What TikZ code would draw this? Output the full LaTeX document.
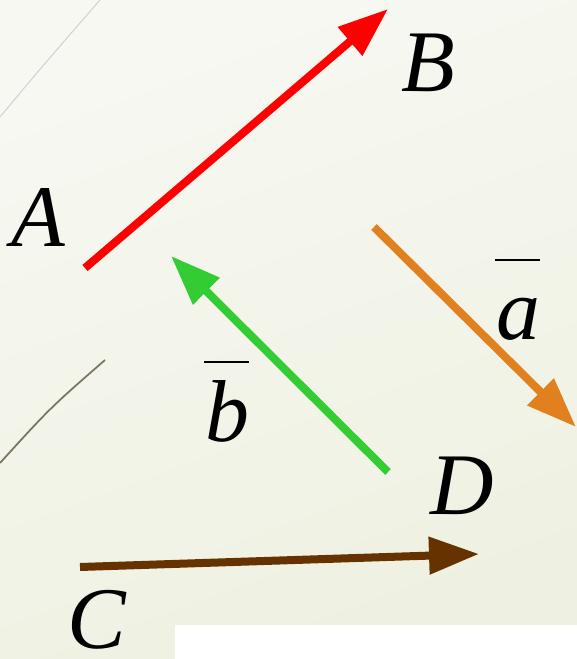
\documentclass[tikz,border=0pt]{standalone}
\usepackage{fontspec}
\setmainfont{Liberation Serif}
\usetikzlibrary{arrows.meta}
\definecolor{bgtop}{HTML}{F7F8F2}
\definecolor{bgbot}{HTML}{EEF1E1}
\definecolor{vred}{HTML}{FF0000}
\definecolor{vorange}{HTML}{E0801E}
\definecolor{vgreen}{HTML}{33CC33}
\definecolor{vbrown}{HTML}{663300}
\definecolor{faint}{HTML}{7A7562}
\newcommand\barred[1]{\setbox0\hbox{#1}\rlap{\hbox to \wd0{\hss\raisebox{1.57cm}{\rule{0.9cm}{0.05cm}}\hss}}\box0}
\tikzset{
  vec/.style={line width=0.16cm,-{Triangle[length=1cm,width=0.72cm]}},
  lbl/.style={anchor=base,inner sep=0pt,font=\fontsize{50}{60}\selectfont\itshape}
}
\begin{document}
\begin{tikzpicture}
  \useasboundingbox (0,0) rectangle (11.54,13.18);
  % Background
  \shade[top color=bgtop,bottom color=bgbot,shading angle=20] (0,0) rectangle (11.54,13.18);
  \fill[white] (3.5,0) rectangle (11.54,0.68);
  \draw[line width=0.02cm,black!18] (0,10.84) .. controls (0.8,11.8) .. (2.0,13.18);
  \draw[line width=0.035cm,faint] (0,3.92) .. controls (1.0,5.02) .. (2.1,5.98);
  % Points
  \coordinate (redtail) at (1.70,7.82);
  \coordinate (redtip) at (7.76,13.00);
  \coordinate (orangetail) at (7.48,8.64);
  \coordinate (orangetip) at (11.52,4.64);
  \coordinate (greentail) at (7.76,3.74);
  \coordinate (greentip) at (3.42,8.06);
  \coordinate (browntail) at (1.60,1.84);
  \coordinate (browntip) at (9.58,2.10);
  % Vectors
  \draw[vec,vred] (redtail) -- (redtip);
  \draw[vec,vorange] (orangetail) -- (orangetip);
  \draw[vec,vgreen] (greentail) -- (greentip);
  \draw[vec,vbrown] (browntail) -- (browntip);
  % Labels
  \node[lbl] (A) at (0.76,8.24) {A};
  \node[lbl] (B) at (8.56,11.34) {B};
  \node[lbl] (C) at (1.94,0.22) {C};
  \node[lbl] (D) at (9.24,2.88) {D};
  \node[lbl] (a) at (10.36,6.38) {\barred{a}};
  \node[lbl] (b) at (4.54,4.34) {\barred{b}};
\end{tikzpicture}
\end{document}
